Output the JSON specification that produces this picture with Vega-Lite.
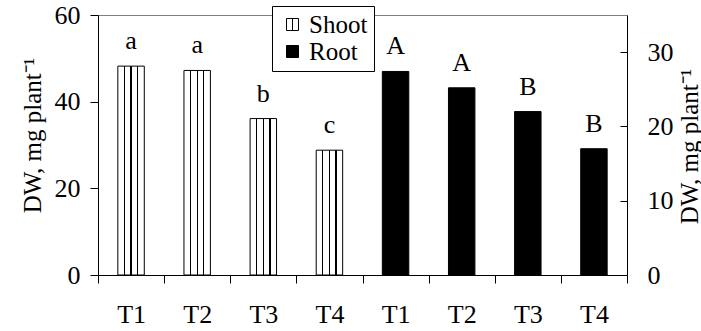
{
  "$schema": "https://vega.github.io/schema/vega-lite/v6.json",
  "width": 529,
  "height": 260,
  "autosize": {"type": "none"},
  "padding": {"left": 98, "top": 15, "right": 74, "bottom": 56},
  "background": "white",
  "config": {
    "font": "Liberation Serif",
    "view": {"stroke": "#808080", "strokeWidth": 1},
    "axis": {
      "labelFont": "Liberation Serif",
      "titleFont": "Liberation Serif",
      "labelColor": "black",
      "titleColor": "black",
      "domainColor": "black",
      "tickColor": "black",
      "grid": false,
      "labelFontSize": 26,
      "titleFontSize": 25,
      "titleFontWeight": "normal"
    },
    "legend": {"labelFont": "Liberation Serif", "labelFontSize": 25}
  },
  "data": {
    "values": [
      {"part": "Shoot", "key": "Shoot T1", "value": 48.2, "letter": "a"},
      {"part": "Shoot", "key": "Shoot T2", "value": 47.2, "letter": "a"},
      {"part": "Shoot", "key": "Shoot T3", "value": 36.1, "letter": "b"},
      {"part": "Shoot", "key": "Shoot T4", "value": 28.8, "letter": "c"},
      {"part": "Root", "key": "Root T1", "value": 27.4, "letter": "A"},
      {"part": "Root", "key": "Root T2", "value": 25.2, "letter": "A"},
      {"part": "Root", "key": "Root T3", "value": 22.0, "letter": "B"},
      {"part": "Root", "key": "Root T4", "value": 17.0, "letter": "B"}
    ]
  },
  "encoding": {
    "x": {
      "field": "key",
      "type": "nominal",
      "sort": null,
      "scale": {
        "domain": ["Shoot T1", "Shoot T2", "Shoot T3", "Shoot T4", "Root T1", "Root T2", "Root T3", "Root T4"],
        "paddingInner": 0,
        "paddingOuter": 0
      },
      "axis": {
        "title": null,
        "labelAngle": 0,
        "tickBand": "extent",
        "tickSize": 8,
        "labelPadding": 18,
        "labelExpr": "split(datum.label, ' ')[1]"
      }
    }
  },
  "layer": [
    {
      "transform": [{"filter": "datum.part === 'Shoot'"}],
      "encoding": {
        "y": {
          "field": "value",
          "type": "quantitative",
          "scale": {"domain": [0, 60], "nice": false},
          "axis": {
            "orient": "left",
            "values": [0, 20, 40, 60],
            "tickSize": 8,
            "labelPadding": 10,
            "title": "DW, mg plant⁻¹",
            "titleX": -66,
            "titleY": 120,
            "titleAngle": 270,
            "titleAlign": "center",
            "titleBaseline": "middle"
          }
        }
      },
      "layer": [
        {
          "mark": {
            "type": "bar",
            "width": {"band": 0.4},
            "stroke": "black",
            "strokeWidth": 1,
            "fill": {"gradient": "linear", "x1": 0, "y1": 0, "x2": 1, "y2": 0, "stops": [
              {"offset": 0, "color": "white"},
              {"offset": 0.225, "color": "white"},
              {"offset": 0.225, "color": "black"},
              {"offset": 0.275, "color": "black"},
              {"offset": 0.275, "color": "white"},
              {"offset": 0.475, "color": "white"},
              {"offset": 0.475, "color": "black"},
              {"offset": 0.525, "color": "black"},
              {"offset": 0.525, "color": "white"},
              {"offset": 0.725, "color": "white"},
              {"offset": 0.725, "color": "black"},
              {"offset": 0.775, "color": "black"},
              {"offset": 0.775, "color": "white"},
              {"offset": 1, "color": "white"}
            ]}
          }
        },
        {
          "mark": {"type": "text", "font": "Liberation Serif", "fontSize": 26, "baseline": "alphabetic", "dy": -17, "color": "black"},
          "encoding": {"text": {"field": "letter"}}
        }
      ]
    },
    {
      "transform": [{"filter": "datum.part === 'Root'"}],
      "encoding": {
        "y": {
          "field": "value",
          "type": "quantitative",
          "scale": {"domain": [0, 35], "nice": false},
          "axis": {
            "orient": "right",
            "values": [0, 10, 20, 30],
            "tickSize": -7,
            "labelPadding": 27,
            "title": "DW, mg plant⁻¹",
            "titleX": 62,
            "titleY": 131,
            "titleAngle": 270,
            "titleAlign": "center",
            "titleBaseline": "middle"
          }
        }
      },
      "layer": [
        {
          "mark": {"type": "bar", "width": {"band": 0.4}, "stroke": "black", "strokeWidth": 1},
          "encoding": {
            "fill": {
              "field": "part",
              "type": "nominal",
              "scale": {"domain": ["Shoot", "Root"], "range": ["white", "black"]},
              "legend": {
                "title": null,
                "orient": "none",
                "legendX": 174,
                "legendY": -9,
                "fillColor": "white",
                "strokeColor": "black",
                "padding": 6,
                "symbolOffset": 2,
                "symbolType": "M-1,-1H1V1H-1Z M0,-1V1",
                "symbolSize": 144,
                "symbolStrokeColor": "black",
                "symbolStrokeWidth": 1,
                "labelFont": "Liberation Serif",
                "labelFontSize": 25,
                "labelColor": "black",
                "rowPadding": 1,
                "labelOffset": 4
              }
            }
          }
        },
        {
          "mark": {"type": "text", "font": "Liberation Serif", "fontSize": 26, "baseline": "alphabetic", "dy": -17, "color": "black"},
          "encoding": {"text": {"field": "letter"}}
        }
      ]
    }
  ],
  "resolve": {"scale": {"y": "independent"}}
}
